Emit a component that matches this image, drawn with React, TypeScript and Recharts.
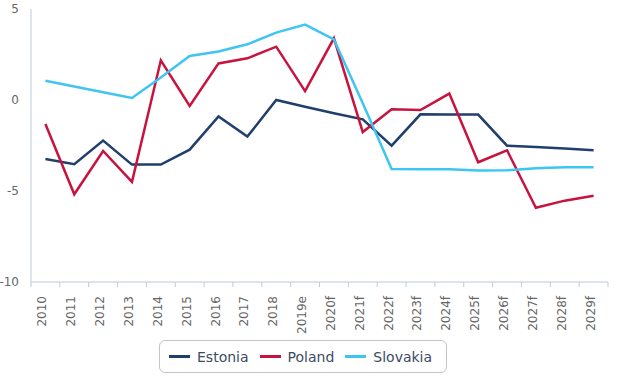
import React from "react";
import { LineChart, Line, XAxis, YAxis, Legend } from "recharts";

const years = ["2010", "2011", "2012", "2013", "2014", "2015", "2016", "2017", "2018", "2019e", "2020f", "2021f", "2022f", "2023f", "2024f", "2025f", "2026f", "2027f", "2028f", "2029f"];
const estonia = [-3.24, -3.53, -2.23, -3.55, -3.55, -2.73, -0.9, -2.01, 0.0, -0.37, -0.73, -1.06, -2.51, -0.79, -0.8, -0.8, -2.51, -2.58, -2.67, -2.76];
const poland = [-1.32, -5.18, -2.8, -4.5, 2.18, -0.33, 2.01, 2.29, 2.93, 0.49, 3.39, -1.76, -0.51, -0.55, 0.35, -3.42, -2.76, -5.92, -5.53, -5.26];
const slovakia = [1.06, 0.74, 0.43, 0.11, 1.24, 2.42, 2.67, 3.06, 3.7, 4.14, 3.33, -0.18, -3.79, -3.81, -3.81, -3.88, -3.86, -3.75, -3.7, -3.7];
const yTicks = [-10, -5, 0, 5];

const series = [
  { key: "Estonia", values: estonia, color: "#203f6c" },
  { key: "Poland", values: poland, color: "#c8133f" },
  { key: "Slovakia", values: slovakia, color: "#3ec5f2" },
];

const data = years.map((y, i) => {
  const row: any = { year: y };
  series.forEach((s) => (row[s.key] = s.values[i]));
  return row;
});

const W = 621;
const H = 385;
const MARGIN = { top: 9, right: 13, left: 0, bottom: 12 };
const Y_W = 31;
const PLOT_W = W - MARGIN.right - MARGIN.left - Y_W;
const STEP = PLOT_W / years.length;
const AXIS_COLOR = "#bccadb";
const FONT = "'DejaVu Sans', sans-serif";

const XTick = (props: any) => {
  const { x, y, payload, index } = props;
  const half = STEP / 2;
  return (
    <g>
      <line x1={x - half} x2={x - half} y1={y} y2={y + 5} stroke={AXIS_COLOR} strokeWidth={1} />
      {index === years.length - 1 && (
        <line x1={x + half} x2={x + half} y1={y} y2={y + 5} stroke={AXIS_COLOR} strokeWidth={1} />
      )}
      <text
        x={x + 1}
        y={y + 14}
        transform={`rotate(-90, ${x + 1}, ${y + 14})`}
        textAnchor="end"
        fill="#666"
        fontSize={12}
        fontFamily={FONT}
      >
        {payload.value}
      </text>
    </g>
  );
};

const LegendContent = () => (
  <div
    style={{
      boxSizing: "border-box",
      width: 288,
      height: 33,
      border: "1px solid #c4c4c4",
      borderRadius: 6,
      display: "flex",
      alignItems: "center",
      paddingLeft: 9,
      fontFamily: FONT,
      fontSize: 14,
      color: "#3b4b63",
      background: "#fff",
    }}
  >
    {series.map((s, i) => (
      <div key={s.key} style={{ display: "flex", alignItems: "center", marginRight: i < series.length - 1 ? 11 : 0 }}>
        <div style={{ width: 21, height: 3, background: s.color, marginRight: 7 }} />
        <span style={{ lineHeight: "16px" }}>{s.key}</span>
      </div>
    ))}
  </div>
);

export default function App() {
  return (
    <div style={{ position: "absolute", left: 0, top: 0, width: W, height: H, background: "#fff" }}>
      <LineChart width={W} height={H} data={data} margin={MARGIN} style={{ fontFamily: FONT }}>
        <XAxis
          dataKey="year"
          scale="band"
          interval={0}
          height={58}
          tickSize={0}
          tickMargin={0}
          tickLine={false}
          axisLine={{ stroke: AXIS_COLOR }}
          tick={<XTick />}
        />
        <XAxis xAxisId="top" dataKey="year" scale="band" orientation="top" height={0} tick={false} tickLine={false} axisLine={{ stroke: "#cccccc" }} />
        <YAxis
          domain={[-10, 5]}
          ticks={yTicks}
          width={Y_W}
          tickLine={false}
          tickSize={10}
          tickMargin={2}
          axisLine={{ stroke: AXIS_COLOR }}
          tick={{ fill: "#666", fontSize: 12, fontFamily: FONT }}
        />
        <YAxis yAxisId="right" orientation="right" domain={[-10, 5]} width={0} tick={false} tickLine={false} axisLine={{ stroke: "#cccccc" }} />
        {series.map((s) => (
          <Line
            key={s.key}
            dataKey={s.key}
            stroke={s.color}
            strokeWidth={2.5}
            dot={false}
            type="linear"
            isAnimationActive={false}
          />
        ))}
        <Legend verticalAlign="bottom" content={<LegendContent />} wrapperStyle={{ left: 159, width: 288 }} />
      </LineChart>
    </div>
  );
}
